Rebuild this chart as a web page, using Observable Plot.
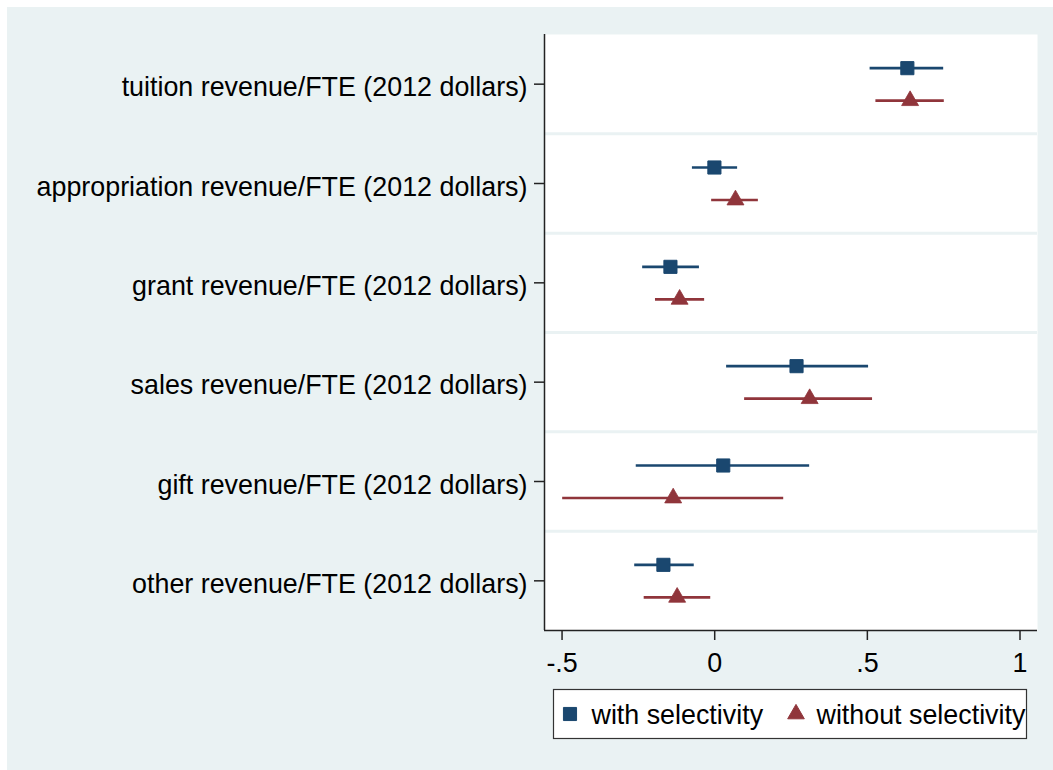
<!DOCTYPE html>
<html><head><meta charset="utf-8">
<script src="https://cdn.jsdelivr.net/npm/d3@7"></script>
<script src="https://cdn.jsdelivr.net/npm/@observablehq/plot@0.6"></script>
<style>
body{margin:0;background:#fff;}
#wrap{position:relative;width:1053px;height:770px;overflow:hidden;font-family:"Liberation Sans",Arial,sans-serif;}
#bg{position:absolute;left:7px;top:7px;right:0;bottom:0;background:#eaf2f3;}
#chart{position:absolute;left:0;top:0;}
#legend{position:absolute;left:0;top:0;}
</style></head><body>
<div id="wrap"><div id="bg"></div><div id="chart"></div><svg id="legend" width="1053" height="770"></svg></div>
<script>
const categories = [
  "tuition revenue/FTE (2012 dollars)",
  "appropriation revenue/FTE (2012 dollars)",
  "grant revenue/FTE (2012 dollars)",
  "sales revenue/FTE (2012 dollars)",
  "gift revenue/FTE (2012 dollars)",
  "other revenue/FTE (2012 dollars)"
];
const withEst = [0.631, -0.001, -0.145, 0.268, 0.028, -0.168];
const withLo  = [0.509, -0.073, -0.236, 0.039, -0.257, -0.262];
const withHi  = [0.750,  0.075, -0.050, 0.504, 0.311, -0.067];
const withoutEst = [0.640, 0.068, -0.115, 0.311, -0.136, -0.123];
const withoutLo  = [0.528, -0.010, -0.194, 0.098, -0.498, -0.231];
const withoutHi  = [0.752, 0.143, -0.033, 0.517, 0.226, -0.013];
const seriesNames = ["with selectivity", "without selectivity"];
const seriesColors = ["#1a476f", "#90353b"];
const xTicks = [-0.5, 0, 0.5, 1];
const xDomain = [-0.5575, 1.0573];
const yDomain = [categories.length - 0.5, -0.5];

const rowsWith = categories.map((c, i) => ({i, est: withEst[i], lo: withLo[i], hi: withHi[i]}));
const rowsWithout = categories.map((c, i) => ({i, est: withoutEst[i], lo: withoutLo[i], hi: withoutHi[i]}));
const fmt = d => d === 0 ? "0" : String(d).replace("0.", ".");
const axisColor = "#222";
const yTicks = d3.range(categories.length);
const fs = 26.85;

const chart = Plot.plot({
  width: 1053, height: 770,
  marginLeft: 544, marginRight: 16, marginTop: 34, marginBottom: 140,
  style: {background: "transparent", fontFamily: '"Liberation Sans", Arial, sans-serif', fontSize: fs + "px", color: "#000", overflow: "visible"},
  x: {domain: xDomain},
  y: {domain: yDomain},
  marks: [
    Plot.frame({fill: "white", stroke: null}),
    Plot.ruleY(d3.range(1, categories.length), {y: d => d - 0.5, stroke: "#eaf2f3", strokeWidth: 3}),
    Plot.ruleY(rowsWith, {y: "i", x1: "lo", x2: "hi", stroke: seriesColors[0], strokeWidth: 2.6, dy: -16}),
    Plot.ruleY(rowsWithout, {y: "i", x1: "lo", x2: "hi", stroke: seriesColors[1], strokeWidth: 2.6, dy: 16.5}),
    Plot.dot(rowsWith, {x: "est", y: "i", symbol: "square", r: 7.4, fill: seriesColors[0], stroke: seriesColors[0], strokeWidth: 1, strokeLinejoin: "round", dy: -16}),
    Plot.dot(rowsWithout, {x: "est", y: "i", symbol: "triangle", r: 6.3, fill: seriesColors[1], stroke: seriesColors[1], strokeWidth: 0.8, dy: 16.5}),
    Plot.ruleX([xDomain[0]], {stroke: axisColor, strokeWidth: 1.5}),
    Plot.ruleY([yDomain[0]], {stroke: axisColor, strokeWidth: 1.5}),
    Plot.axisX({ticks: xTicks, tickFormat: fmt, tickSize: 10, tickPadding: 12, fontSize: fs, label: null, stroke: axisColor, strokeWidth: 1.5, fill: "#000"}),
    Plot.axisY({ticks: yTicks, tickSize: 10, label: null, stroke: axisColor, strokeWidth: 1.5, fill: "none"}),
    Plot.axisY({ticks: yTicks, tickFormat: i => categories[i], tickSize: 10, tickPadding: 7, fontSize: fs, label: null, stroke: "none", fill: "#000", dy: 3.5})
  ]
});
document.getElementById("chart").appendChild(chart);

// legend
const lg = d3.select("#legend");
lg.append("rect").attr("x", 553.5).attr("y", 689.5).attr("width", 473).attr("height", 49)
  .attr("fill", "white").attr("stroke", "#333").attr("stroke-width", 1.2);
const items = [
  {name: seriesNames[0], color: seriesColors[0], symbol: d3.symbolSquare, size: 172, mx: 570, tx: 591.5},
  {name: seriesNames[1], color: seriesColors[1], symbol: d3.symbolTriangle, size: 120, mx: 796, tx: 816.5}
];
for (const it of items) {
  lg.append("path").attr("d", d3.symbol(it.symbol, it.size)()).attr("transform", `translate(${it.mx},${714})`)
    .attr("fill", it.color).attr("stroke", it.color).attr("stroke-width", 1).attr("stroke-linejoin", "round");
  lg.append("text").attr("x", it.tx).attr("y", 724).attr("font-size", fs)
    .attr("font-family", '"Liberation Sans", Arial, sans-serif').attr("fill", "#000").text(it.name);
}
</script>
</body></html>
